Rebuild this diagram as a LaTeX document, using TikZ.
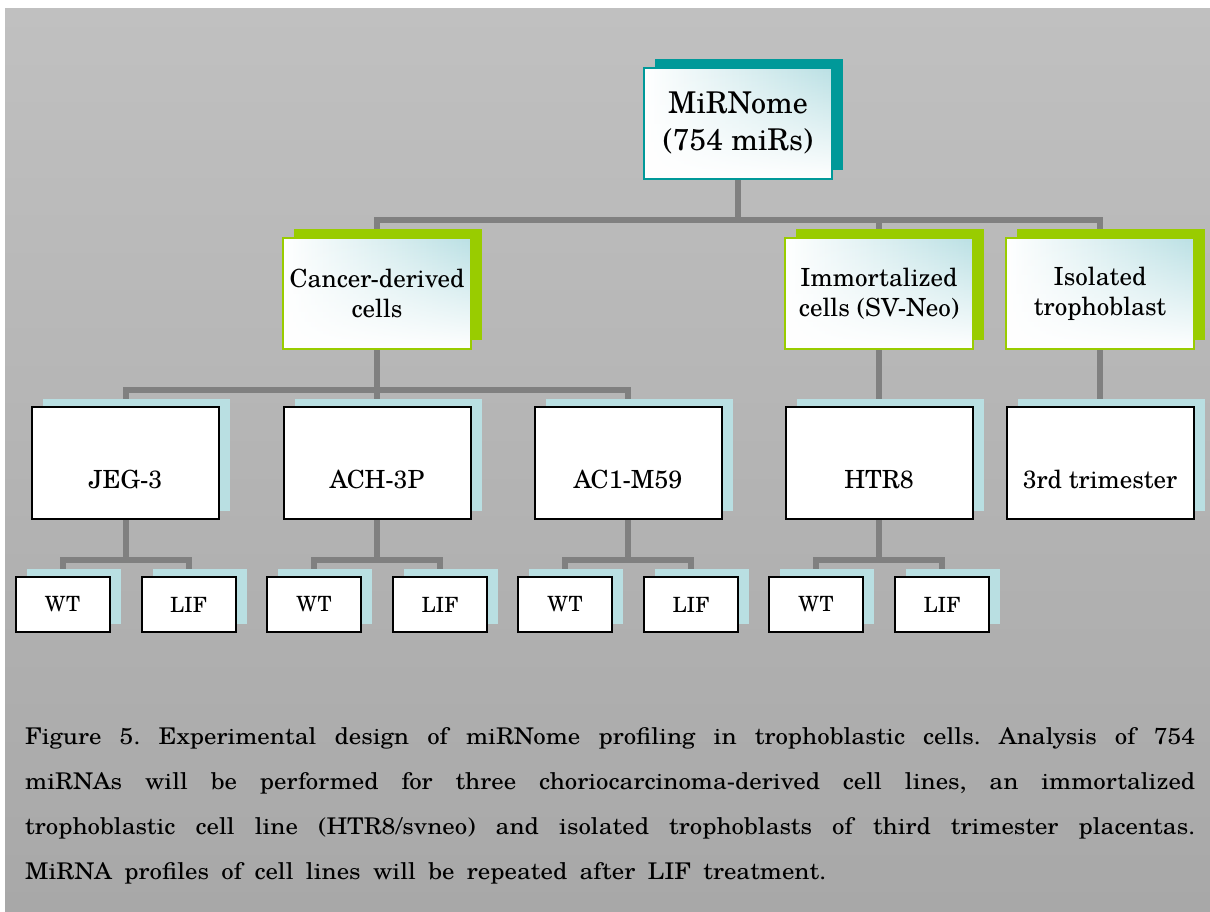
\documentclass[tikz,border=0pt]{standalone}
\usepackage{fontspec}
\setmainfont{TeX Gyre Schola}
\newfontfamily\captionfont[FakeStretch=1.08]{TeX Gyre Schola}
\usetikzlibrary{shadows,fadings}

\definecolor{rootteal}{RGB}{0,153,153}
\definecolor{catgreen}{RGB}{153,204,0}
\definecolor{paleblue}{RGB}{185,223,226}
\definecolor{boxtint}{RGB}{186,224,228}
\definecolor{wiregray}{RGB}{128,128,128}
\definecolor{bgtop}{RGB}{192,192,192}
\definecolor{bgbottom}{RGB}{168,168,168}

% white wash that rises from the bottom edge of the tinted boxes
\tikzfading[name=lowerwhite, top color=transparent!100, middle color=transparent!80, bottom color=transparent!0]

\pgfdeclarelayer{paper}
\pgfdeclarelayer{wires}
\pgfsetlayers{paper,wires,main}

\tikzset{
  tintbox/.style={minimum width=188pt, minimum height=111pt, line width=2pt,
    align=center, left color=white, right color=boxtint,
    path picture={\fill[white, path fading=lowerwhite]
      (path picture bounding box.south west) rectangle (path picture bounding box.north east);}},
  rootbox/.style={tintbox, draw=rootteal, font=\fontsize{30}{37}\selectfont,
    general shadow={fill=rootteal, shadow xshift=11pt, shadow yshift=9pt}},
  catbox/.style={tintbox, draw=catgreen, font=\fontsize{25}{30}\selectfont,
    general shadow={fill=catgreen, shadow xshift=11pt, shadow yshift=9pt}},
  linebox/.style={draw=black, fill=white, line width=2pt, minimum width=187pt,
    minimum height=112pt, font=\fontsize{25}{30}\selectfont, text height=50pt, text depth=0pt,
    general shadow={fill=paleblue, shadow xshift=11pt, shadow yshift=8pt}},
  condbox/.style={draw=black, fill=white, line width=2pt, minimum width=94pt,
    minimum height=55pt, font=\fontsize{21}{26}\selectfont,
    general shadow={fill=paleblue, shadow xshift=11pt, shadow yshift=8pt}},
  wire/.style={draw=wiregray, line width=6pt, line join=miter},
  captiontext/.style={anchor=north west, align=left, inner sep=0pt,
    font=\captionfont\fontsize{23}{45}\selectfont\frenchspacing}
}

\begin{document}
\begin{tikzpicture}[x=1pt, y=-1pt]
\useasboundingbox (0,0) rectangle (1210,911);

\begin{pgfonlayer}{paper}
  \fill[white] (0,0) rectangle (1210,911);
  \shade[top color=bgtop, bottom color=bgbottom] (5,8) rectangle (1210,911);
\end{pgfonlayer}

% tree
\node[rootbox] (root) at (738,123.5) {MiRNome\\(754 miRs)};

\node[catbox] (cancer) at (377,293.5) {Cancer-derived\\cells};
\node[catbox] (immort) at (879,293.5) {Immortalized\\cells (SV-Neo)};
\node[catbox] (isol)   at (1100,293.5) {Isolated\\trophoblast};

\node[linebox] (jeg) at (125.5,463) {JEG-3};
\node[linebox] (ach) at (377,463)   {ACH-3P};
\node[linebox] (acm) at (628,463)   {AC1-M59};
\node[linebox] (htr) at (879,463)   {HTR8};
\node[linebox] (tri) at (1100,463)  {3rd trimester};

\foreach \cell in {jeg,ach,acm,htr}{
  \node[condbox] (\cell wt)  at ([shift={(-63,141.5)}]\cell.center) {WT};
  \node[condbox] (\cell lif) at ([shift={(63,141.5)}]\cell.center)  {LIF};
}

% connector bus heights
\coordinate (busA) at (0,220);
\coordinate (busB) at (0,390);
\coordinate (busC) at (0,560);

\begin{pgfonlayer}{wires}
  \draw[wire] (root.south) |- (cancer.north |- busA) -- (cancer.north);
  \draw[wire] (root.south) |- (isol.north |- busA) -- (isol.north);
  \draw[wire] (immort.north |- busA) -- (immort.north);
  \draw[wire] (cancer.south) |- (jeg.north |- busB) -- (jeg.north);
  \draw[wire] (cancer.south) |- (acm.north |- busB) -- (acm.north);
  \draw[wire] (cancer.south) -- (ach.north);
  \draw[wire] (immort.south) -- (htr.north);
  \draw[wire] (isol.south) -- (tri.north);
  \foreach \cell in {jeg,ach,acm,htr}{
    \draw[wire] (\cell.south) |- (\cell wt.north |- busC) -- (\cell wt.north);
    \draw[wire] (\cell.south) |- (\cell lif.north |- busC) -- (\cell lif.north);
  }
\end{pgfonlayer}

% caption
\node[captiontext] (caption) at (25,727) {%
\makebox[1170pt][s]{Figure 5. Experimental design of miRNome profiling in trophoblastic cells. Analysis of 754}\\
\makebox[1170pt][s]{miRNAs will be performed for three choriocarcinoma-derived cell lines, an immortalized}\\
\makebox[1170pt][s]{trophoblastic cell line (HTR8/svneo) and isolated trophoblasts of third trimester placentas.}\\
\makebox[801pt][s]{MiRNA profiles of cell lines will be repeated after LIF treatment.}};
\end{tikzpicture}
\end{document}
